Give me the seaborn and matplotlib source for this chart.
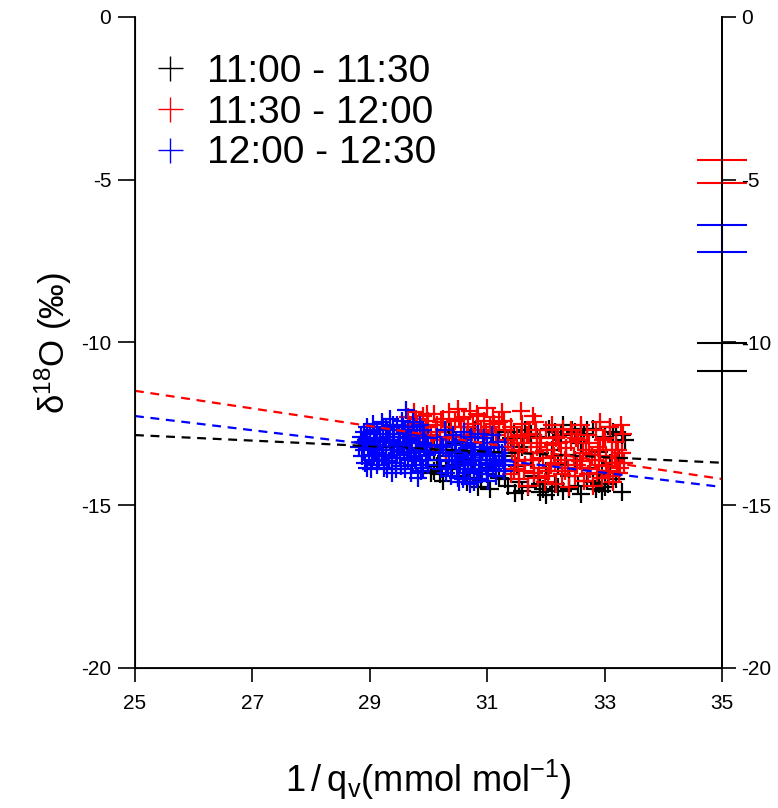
import numpy as np
import matplotlib
matplotlib.use("Agg")
import matplotlib.pyplot as plt
from matplotlib.lines import Line2D
import seaborn as sns

# --- data ---
labels = ["11:00 - 11:30", "11:30 - 12:00", "12:00 - 12:30"]
colors = ["black", "red", "blue"]

black_x = [30.0, 30.05, 30.1, 30.15, 30.2, 30.3, 30.35, 30.4, 30.5, 30.55, 30.6, 30.7, 30.75, 30.8,
           30.9, 30.95, 31.0, 31.1, 31.2, 31.3, 31.4, 31.47, 31.5, 31.55, 31.6, 31.65, 31.7, 31.75,
           31.8, 31.85, 31.9, 31.95, 32.0, 32.05, 32.1, 32.15, 32.2, 32.25, 32.3, 32.35, 32.4, 32.45,
           32.5, 32.55, 32.6, 32.65, 32.7, 32.75, 32.8, 32.85, 32.9, 32.95, 33.0, 33.05, 33.1, 33.15,
           33.2, 33.25, 33.3, 33.35, 33.1, 32.3, 31.2, 30.45, 32.0, 32.6, 31.35, 30.85,
           30.25, 30.65, 31.05, 31.45, 31.9, 32.15, 32.4, 32.7, 32.95, 33.2,
           30.5, 30.95, 31.3, 31.75, 32.1, 32.5, 32.9, 33.3, 31.6, 32.2,
           32.8, 33.0, 30.1, 31.0, 31.9, 32.6]
black_y = [-13.6, -14.0, -13.3, -13.8, -14.05, -13.5, -12.75, -13.9, -14.1, -13.4, -12.9, -14.15, -13.6, -12.7,
           -14.25, -13.2, -13.85, -12.85, -14.15, -13.5, -12.95, -14.62, -13.8, -14.3, -13.2, -12.7, -14.45, -13.6,
           -14.1, -12.9, -13.4, -14.5, -13.95, -12.65, -13.3, -14.35, -13.75, -12.85, -14.55, -13.45, -14.1, -12.7,
           -13.6, -14.4, -13.1, -12.8, -14.25, -13.85, -12.65, -14.5, -13.35, -14.05, -12.9, -14.35, -13.7, -12.75,
           -14.2, -13.55, -14.6, -13.0, -12.6, -12.55, -12.75, -13.1, -14.7, -14.65, -14.4, -14.45,
           -14.25, -14.3, -14.5, -12.75, -14.6, -12.75, -14.5, -12.7, -14.55, -12.8,
           -13.75, -12.8, -14.2, -12.8, -14.55, -12.75, -14.35, -12.85, -14.55, -14.45,
           -14.3, -14.45, -13.95, -14.05, -14.35, -12.65]

red_x = [29.65, 29.7, 29.75, 29.8, 29.85, 29.9, 29.95, 30.0, 30.05, 30.1, 30.15, 30.2, 30.25, 30.3,
         30.35, 30.4, 29.72, 30.08, 30.3,
         30.45, 30.5, 30.55, 30.6, 30.65, 30.7, 30.75, 30.8, 30.85, 30.9, 30.95, 31.0, 31.05, 31.1,
         31.15, 31.2, 31.25, 31.3, 31.35, 30.6, 31.0,
         31.4, 31.42, 31.45, 31.5, 31.52, 31.55, 31.6, 31.62, 31.65, 31.7, 31.72, 31.75, 31.8, 31.82,
         31.85, 31.88, 31.9, 31.95, 31.98, 32.0, 32.02, 32.05, 32.1, 32.12, 32.15, 32.18, 32.2, 32.25,
         32.28, 32.3, 32.35, 32.38, 32.4, 32.45, 32.48, 32.5, 32.55, 32.58, 32.6, 32.65, 32.68, 32.7,
         32.75, 32.78, 32.8, 32.85, 32.88, 32.9, 32.95, 33.0, 33.02, 33.05, 33.1, 33.12, 33.15, 33.2,
         33.22, 33.25, 33.3, 33.32, 31.58, 31.78, 33.28, 32.92,
         29.68, 29.78, 29.88, 29.98, 30.12, 30.22, 30.38, 30.52, 30.68, 30.82,
         30.98, 31.12, 31.28, 31.45, 31.55, 31.68, 31.78, 31.92, 32.03, 32.13,
         32.23, 32.33, 32.43, 32.53, 32.63, 32.73, 32.83, 32.93, 33.03, 33.13,
         33.23, 33.33, 31.48, 31.63, 31.87, 32.08, 32.32, 32.52, 32.72, 32.97,
         33.18, 31.58, 31.83, 32.17, 32.42, 32.62, 32.87, 33.07, 33.27, 31.4]
red_y = [-12.3, -12.7, -12.15, -12.5, -12.9, -12.25, -12.6, -12.4, -12.85, -12.2, -12.55, -13.0, -12.35, -12.7,
         -12.15, -12.9, -13.05, -13.2, -13.3,
         -12.4, -12.05, -12.6, -12.3, -12.85, -12.1, -12.5, -12.95, -12.25, -12.7, -12.4, -12.0, -12.6, -12.3,
         -12.85, -12.45, -12.15, -12.7, -13.0, -13.0, -13.1,
         -12.6, -13.3, -13.9, -12.9, -13.6, -14.2, -12.5, -13.1, -13.75, -14.4, -12.8, -13.4, -14.0, -12.45,
         -13.2, -13.85, -12.95, -13.55, -14.3, -12.7, -13.3, -13.95, -12.55, -13.15, -13.7, -14.35, -12.9, -13.45,
         -14.05, -12.65, -13.25, -13.85, -14.45, -12.8, -13.5, -14.1, -13.0, -13.65, -12.55, -14.25, -13.3, -12.85,
         -13.9, -13.45, -14.4, -12.7, -13.2, -13.75, -14.15, -12.95, -13.5, -13.95, -12.6, -13.3, -14.3, -13.05,
         -13.7, -14.0, -13.4, -12.8, -12.1, -12.25, -12.55, -12.45,
         -12.55, -12.35, -12.7, -12.2, -12.75, -12.45, -12.6, -12.35, -12.6, -12.2,
         -12.75, -12.5, -12.4, -13.1, -13.35, -12.85, -13.6, -13.1, -14.1, -13.5,
         -13.1, -13.6, -13.05, -13.75, -13.4, -13.1, -13.6, -13.3, -13.8, -13.55,
         -13.3, -13.7, -13.65, -13.95, -14.15, -13.75, -13.95, -12.95, -14.05, -13.0,
         -13.55, -12.85, -12.7, -12.95, -12.7, -13.85, -14.0, -14.1, -13.85, -14.05]

blue_x = [28.85, 28.9, 28.95, 28.92, 29.0, 29.05, 29.02, 29.1, 29.12, 29.15, 29.2, 29.22, 29.25, 29.3,
          29.28, 29.35, 29.38, 29.4, 29.42, 29.45, 29.5, 29.52, 29.55, 29.58, 29.6, 29.62, 29.65, 29.68,
          29.7, 29.72, 29.75, 29.78, 29.82, 29.8, 29.85, 29.88, 29.9, 29.92, 29.95, 30.0, 30.02, 28.88,
          28.98, 29.08, 29.18, 29.32, 29.48, 29.62, 29.75, 29.9, 28.82, 28.95, 29.1, 29.27, 29.44, 29.57,
          29.7, 29.85, 30.0, 29.35,
          28.87, 28.93, 29.0, 29.06, 29.13, 29.17, 29.23, 29.3, 29.36, 29.41,
          29.47, 29.53, 29.6, 29.66, 29.73, 29.79, 29.86, 29.93, 29.98, 28.9,
          29.03, 29.15, 29.28, 29.4, 29.52, 29.65, 29.78, 29.9, 29.07, 29.33,
          29.58, 29.83, 28.97, 29.2, 29.46, 29.7, 29.95, 29.12, 29.38, 29.64,
          30.15, 30.2, 30.22, 30.28, 30.3, 30.35, 30.38, 30.42, 30.45, 30.48, 30.52, 30.55, 30.58, 30.6,
          30.62, 30.65, 30.68, 30.7, 30.72, 30.75, 30.78, 30.8, 30.82, 30.85, 30.88, 30.9, 30.92, 30.95,
          30.98, 31.0, 31.02, 31.05, 31.08, 31.1, 31.12, 31.15, 31.18, 31.2, 31.25, 31.28, 31.3, 30.4,
          30.6, 30.9, 31.1,
          30.18, 30.25, 30.33, 30.4, 30.47, 30.53, 30.6, 30.67, 30.73, 30.8,
          30.87, 30.93, 31.0, 31.07, 31.13, 31.2, 31.27, 30.3, 30.45, 30.58,
          30.72, 30.86, 31.0, 31.15, 31.3, 30.22, 30.5, 30.78, 31.05, 30.64]
blue_y = [-12.9, -13.3, -12.6, -13.7, -13.1, -12.5, -13.9, -13.4, -12.8, -13.6, -12.45, -13.2, -13.85, -12.7,
          -13.45, -13.0, -14.0, -12.55, -13.3, -13.7, -12.9, -13.55, -12.4, -13.15, -13.9, -12.07, -12.75, -13.4,
          -13.0, -13.75, -12.6, -13.25, -14.16, -12.85, -13.5, -13.95, -12.7, -13.2, -13.6, -12.95, -13.35, -13.05,
          -13.5, -12.7, -13.0, -13.65, -13.2, -12.95, -13.55, -13.1, -13.2, -13.85, -12.95, -12.65, -13.9, -12.6,
          -14.0, -12.55, -13.75, -12.35,
          -13.5, -13.0, -12.75, -13.25, -13.75, -13.05, -12.6, -13.9, -13.3, -12.8,
          -13.45, -13.8, -12.7, -13.1, -12.45, -13.65, -13.3, -12.85, -13.45, -12.75,
          -13.6, -13.3, -13.2, -13.1, -13.05, -13.6, -12.95, -13.85, -13.45, -12.9,
          -13.35, -13.05, -13.25, -13.5, -12.55, -13.35, -13.15, -13.15, -13.55, -13.25,
          -12.9, -13.4, -13.9, -12.7, -13.15, -13.65, -14.1, -12.85, -13.35, -13.8, -14.3, -13.0, -13.55, -12.75,
          -14.0, -13.25, -13.7, -14.35, -12.9, -13.45, -13.95, -13.1, -14.2, -12.8, -13.6, -13.3, -14.05, -12.95,
          -13.75, -13.2, -14.25, -13.5, -12.85, -13.9, -13.35, -14.1, -13.05, -13.65, -13.4, -13.95, -13.2, -13.5,
          -13.9, -13.6, -13.6,
          -13.6, -13.2, -13.85, -13.3, -13.05, -13.7, -13.45, -13.9, -13.2, -13.75,
          -13.4, -13.1, -13.95, -13.25, -13.7, -13.4, -13.6, -14.0, -13.6, -14.2,
          -13.65, -13.9, -13.45, -13.8, -13.75, -13.15, -14.15, -14.3, -13.7, -13.15]

# fitted lines (intercept at 1/qv = 0, slope)
fit_intercept = [-10.72, -4.71, -6.81]
fit_slope = [-0.085, -0.271, -0.218]

# intercept uncertainty shown at the right axis
int_center = [-10.45, -4.75, -6.80]
int_half = [0.43, 0.35, 0.42]

x_ticks = [25, 27, 29, 31, 33, 35]
y_ticks = [0, -5, -10, -15, -20]

sns.set_style("ticks")
plt.rcParams["font.family"] = ["Liberation Sans", "DejaVu Sans"]
plt.rcParams["mathtext.default"] = "regular"
plt.rcParams["axes.unicode_minus"] = False
plt.rcParams["text.color"] = "black"
plt.rcParams["axes.labelcolor"] = "black"
plt.rcParams["xtick.color"] = "black"
plt.rcParams["ytick.color"] = "black"
plt.rcParams["axes.edgecolor"] = "black"

fig = plt.figure(figsize=(7.78, 8.08), dpi=100)
ax = fig.add_axes([0.1735, 0.1733, 0.7545, 0.8057])

xs = [black_x, red_x, blue_x]
ys = [black_y, red_y, blue_y]
for xv, yv, c in zip(xs, ys, colors):
    sns.scatterplot(x=xv, y=yv, marker="+", color=c, s=180, linewidth=1.6, ax=ax, zorder=2)

xl = np.array([25, 35])
for b, m, c in zip(fit_intercept, fit_slope, colors):
    ax.plot(xl, b + m * xl, ls=(0, (4, 3)), color=c, lw=1.6, zorder=3)

for yc, h, c in zip(int_center, int_half, colors):
    ax.errorbar(35, yc, yerr=h, color=c, capsize=18, capthick=1.5, elinewidth=1.5,
                fmt="none", clip_on=False, zorder=5)

ax.set_xlim(25, 35)
ax.set_ylim(-20, 0)
ax.set_xticks(x_ticks)
ax.set_yticks(y_ticks)
ax.tick_params(axis="both", direction="out", length=10, width=1.2, labelsize=15, pad=9)
ax.tick_params(axis="y", length=12, pad=5)
for s in ["left", "bottom", "right"]:
    ax.spines[s].set_linewidth(1.3)
ax.spines["top"].set_visible(False)

ax2 = ax.twinx()
ax2.set_ylim(-20, 0)
ax2.set_yticks(y_ticks)
ax2.tick_params(axis="y", direction="out", length=10, width=1.2, labelsize=15, pad=4)
ax2.spines["top"].set_visible(False)
ax2.spines["right"].set_linewidth(1.3)

ax.set_xlabel("1$\\,/\\,$q$_{v}$(mmol mol$^{-1}$)", fontsize=26, labelpad=32)
ax.set_ylabel("δ$^{18}$O (‰)", fontsize=25, labelpad=5)

handles = [Line2D([], [], ls="none", marker="+", color=c, markersize=18, markeredgewidth=1.0)
           for c in colors]
ax.legend(handles, labels, loc="upper left", bbox_to_anchor=(-0.02, 0.985), frameon=False,
          fontsize=28, handlelength=1.0, handletextpad=0.45, labelspacing=0.12, borderaxespad=0.3)

fig.savefig("out.png", dpi=100)
